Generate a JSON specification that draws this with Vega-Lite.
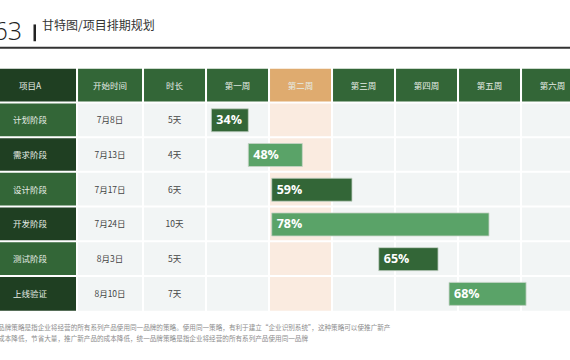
{
  "$schema": "https://vega.github.io/schema/vega-lite/v6.json",
  "width": 570,
  "height": 360,
  "autosize": {"type": "none"},
  "padding": 0,
  "background": "#ffffff",
  "config": {"view": {"stroke": null}, "font": "Noto Sans CJK SC"},
  "datasets": {
    "table": [
      {"row": 0, "task": "项目A", "begin": "开始时间", "length": "时长", "w1": "第一周", "w2": "第二周", "w3": "第三周", "w4": "第四周", "w5": "第五周", "w6": "第六周"},
      {"row": 1, "task": "计划阶段", "begin": "7月8日", "length": "5天", "w1": "", "w2": "", "w3": "", "w4": "", "w5": "", "w6": "", "from": 0.59, "to": 4.7, "progress": 0.34},
      {"row": 2, "task": "需求阶段", "begin": "7月13日", "length": "4天", "w1": "", "w2": "", "w3": "", "w4": "", "w5": "", "w6": "", "from": 4.7, "to": 10.7, "progress": 0.48},
      {"row": 3, "task": "设计阶段", "begin": "7月17日", "length": "6天", "w1": "", "w2": "", "w3": "", "w4": "", "w5": "", "w6": "", "from": 7.3, "to": 16.22, "progress": 0.59},
      {"row": 4, "task": "开发阶段", "begin": "7月24日", "length": "10天", "w1": "", "w2": "", "w3": "", "w4": "", "w5": "", "w6": "", "from": 7.3, "to": 31.44, "progress": 0.78},
      {"row": 5, "task": "测试阶段", "begin": "8月3日", "length": "5天", "w1": "", "w2": "", "w3": "", "w4": "", "w5": "", "w6": "", "from": 19.19, "to": 25.78, "progress": 0.65},
      {"row": 6, "task": "上线验证", "begin": "8月10日", "length": "7天", "w1": "", "w2": "", "w3": "", "w4": "", "w5": "", "w6": "", "from": 27, "to": 35.56, "progress": 0.68}
    ],
    "cols": [
      {"key": "task", "x0": -25, "x1": -14.33, "xc": -19.56},
      {"key": "begin", "x0": -14.33, "x1": -7, "xc": -10.67},
      {"key": "length", "x0": -7, "x1": 0, "xc": -3.5},
      {"key": "w1", "x0": 0, "x1": 7, "xc": 3.5},
      {"key": "w2", "x0": 7, "x1": 14, "xc": 10.5},
      {"key": "w3", "x0": 14, "x1": 21, "xc": 17.5},
      {"key": "w4", "x0": 21, "x1": 28, "xc": 24.5},
      {"key": "w5", "x0": 28, "x1": 35, "xc": 31.5},
      {"key": "w6", "x0": 35, "x1": 42, "xc": 38.5}
    ]
  },
  "layer": [
    {
      "data": {"name": "table"},
      "transform": [
        {"fold": ["task", "begin", "length", "w1", "w2", "w3", "w4", "w5", "w6"], "as": ["key", "value"]},
        {"lookup": "key", "from": {"data": {"name": "cols"}, "key": "key", "fields": ["x0", "x1", "xc"]}}
      ],
      "layer": [
        {
          "mark": {"type": "bar", "size": 35.714, "stroke": "#ffffff", "strokeWidth": 2, "clip": true},
          "encoding": {
            "x": {"field": "x0", "type": "quantitative", "scale": {"domain": [-22.89, 40.44], "nice": false, "zero": false}, "axis": null},
            "x2": {"field": "x1"},
            "y": {"field": "row", "type": "quantitative", "scale": {"domain": [-2.32, 7.76], "reverse": true, "nice": false, "zero": false}, "axis": null},
            "fill": {
              "condition": [
                {"test": "datum.row === 0 && datum.key === 'w2'", "value": "#dfab6f"},
                {"test": "datum.row === 0 && datum.key === 'task'", "value": "#1f3f22"},
                {"test": "datum.row === 0", "value": "#336637"},
                {"test": "datum.key === 'task' && datum.row % 2 === 1", "value": "#336637"},
                {"test": "datum.key === 'task'", "value": "#1f3f22"},
                {"test": "datum.key === 'w2'", "value": "#faebe0"}
              ],
              "value": "#f2f5f5"
            }
          }
        },
        {
          "mark": {"type": "text", "fontSize": 8.5, "baseline": "middle", "align": "center", "clip": true},
          "encoding": {
            "x": {"field": "xc", "type": "quantitative", "scale": {"domain": [-22.89, 40.44], "nice": false, "zero": false}, "axis": null},
            "y": {"field": "row", "type": "quantitative", "scale": {"domain": [-2.32, 7.76], "reverse": true, "nice": false, "zero": false}, "axis": null},
            "text": {"field": "value"},
            "color": {
              "condition": {"test": "datum.row === 0 || datum.key === 'task'", "value": "#e6ede6"},
              "value": "#444444"
            }
          }
        }
      ]
    },
    {
      "data": {"name": "table"},
      "transform": [{"filter": "datum.row > 0"}],
      "layer": [
        {
          "mark": {"type": "bar", "size": 23, "stroke": "#c5d3c7", "strokeWidth": 0.8},
          "encoding": {
            "x": {"field": "from", "type": "quantitative", "scale": {"domain": [-22.89, 40.44], "nice": false, "zero": false}, "axis": null},
            "x2": {"field": "to"},
            "y": {"field": "row", "type": "quantitative", "scale": {"domain": [-2.32, 7.76], "reverse": true, "nice": false, "zero": false}, "axis": null},
            "fill": {
              "condition": {"test": "datum.row % 2 === 1", "value": "#336637"},
              "value": "#5aa368"
            }
          }
        },
        {
          "mark": {"type": "text", "font": "Open Sans", "fontSize": 12.5, "fontWeight": "bold", "align": "left", "baseline": "middle", "dx": 5, "color": "#ffffff"},
          "encoding": {
            "x": {"field": "from", "type": "quantitative", "scale": {"domain": [-22.89, 40.44], "nice": false, "zero": false}, "axis": null},
            "y": {"field": "row", "type": "quantitative", "scale": {"domain": [-2.32, 7.76], "reverse": true, "nice": false, "zero": false}, "axis": null},
            "text": {"field": "progress", "type": "quantitative", "format": ".0%"}
          }
        }
      ]
    },
    {
      "data": {"values": [{}]},
      "layer": [
        {
          "mark": {"type": "text", "text": "63", "font": "Open Sans", "fontSize": 25, "fontWeight": 300, "align": "right", "baseline": "alphabetic", "color": "#222222"},
          "encoding": {
            "x": {"datum": -20.44, "type": "quantitative", "scale": {"domain": [-22.89, 40.44], "nice": false, "zero": false}, "axis": null},
            "y": {"datum": -1.312, "type": "quantitative", "scale": {"domain": [-2.32, 7.76], "reverse": true, "nice": false, "zero": false}, "axis": null}
          }
        },
        {
          "mark": {"type": "rule", "strokeWidth": 2.5, "color": "#222222"},
          "encoding": {
            "x": {"datum": -19.03, "type": "quantitative", "scale": {"domain": [-22.89, 40.44], "nice": false, "zero": false}, "axis": null},
            "y": {"datum": -1.76, "type": "quantitative", "scale": {"domain": [-2.32, 7.76], "reverse": true, "nice": false, "zero": false}, "axis": null},
            "y2": {"datum": -1.276}
          }
        },
        {
          "mark": {"type": "text", "text": "甘特图/项目排期规划", "fontSize": 12, "align": "left", "baseline": "middle", "color": "#333333"},
          "encoding": {
            "x": {"datum": -18.22, "type": "quantitative", "scale": {"domain": [-22.89, 40.44], "nice": false, "zero": false}, "axis": null},
            "y": {"datum": -1.704, "type": "quantitative", "scale": {"domain": [-2.32, 7.76], "reverse": true, "nice": false, "zero": false}, "axis": null}
          }
        },
        {
          "mark": {"type": "rule", "strokeWidth": 2, "color": "#333333"},
          "encoding": {
            "x": {"datum": -22.89, "type": "quantitative", "scale": {"domain": [-22.89, 40.44], "nice": false, "zero": false}, "axis": null},
            "x2": {"datum": 40.44},
            "y": {"datum": -1.0876, "type": "quantitative", "scale": {"domain": [-2.32, 7.76], "reverse": true, "nice": false, "zero": false}, "axis": null}
          }
        },
        {
          "mark": {"type": "text", "text": ["品牌策略是指企业将经营的所有系列产品使用同一品牌的策略。使用同一策略，有利于建立“企业识别系统”，这种策略可以使推广新产", "成本降低，节省大量，推广新产品的成本降低，统一品牌策略是指企业将经营的所有系列产品使用同一品牌"], "fontSize": 6.6, "lineHeight": 11, "align": "left", "baseline": "middle", "color": "#8c8c8c"},
          "encoding": {
            "x": {"datum": -23.1, "type": "quantitative", "scale": {"domain": [-22.89, 40.44], "nice": false, "zero": false}, "axis": null},
            "y": {"datum": 6.99, "type": "quantitative", "scale": {"domain": [-2.32, 7.76], "reverse": true, "nice": false, "zero": false}, "axis": null}
          }
        }
      ]
    }
  ]
}
